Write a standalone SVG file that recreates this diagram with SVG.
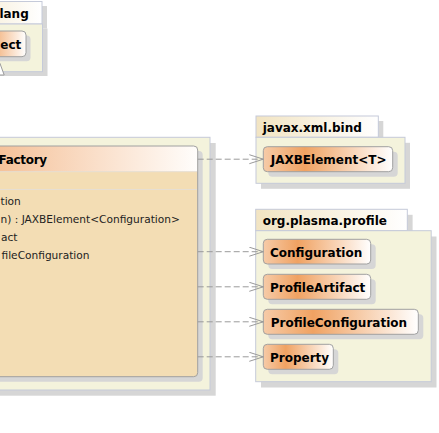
<svg xmlns="http://www.w3.org/2000/svg" width="439" height="433" viewBox="0 0 439 433">
<defs>
  <linearGradient id="clsGrad" x1="0" y1="0" x2="1" y2="0">
    <stop offset="0" stop-color="#F6CBA8"/>
    <stop offset="0.32" stop-color="#F0A262"/>
    <stop offset="1" stop-color="#FFFFFF"/>
  </linearGradient>
  <linearGradient id="tabGrad" x1="0" y1="0" x2="1" y2="0">
    <stop offset="0" stop-color="#F2E4C2"/>
    <stop offset="1" stop-color="#FFFFFF"/>
  </linearGradient>
  <linearGradient id="hdrGrad" gradientUnits="userSpaceOnUse" x1="0" y1="0" x2="197" y2="0">
    <stop offset="0" stop-color="#F5C29A"/>
    <stop offset="1" stop-color="#FFFDFB"/>
  </linearGradient>
  <marker id="openArrow" markerUnits="userSpaceOnUse" markerWidth="16" markerHeight="12" viewBox="0 0 16 12" refX="14.5" refY="5" orient="auto">
    <path d="M0.5,0.5 L14.5,5 L0.5,9.5" fill="none" stroke="#9A9A9A" stroke-width="1"/>
  </marker>
</defs>
<style>
  .shadow{fill:#D6D6D6}
  .pkg{fill:#F4F3DC;stroke:#C5CAD9;stroke-width:1}
  .tab{fill:url(#tabGrad);stroke:#C5CAD9;stroke-width:1}
  .cls{fill:url(#clsGrad);stroke:#A0A0A0;stroke-width:1}
  .bold{font-family:"DejaVu Sans",Verdana,sans-serif;font-weight:bold;font-size:12px;fill:#000}
  .op{font-family:"DejaVu Sans",Verdana,sans-serif;font-size:10.6px;fill:#222}
  .dep{fill:none;stroke:#9A9A9A;stroke-width:1;stroke-dasharray:6 3;marker-end:url(#openArrow)}
  .sep{stroke:#E6DED2;stroke-width:1}
</style>
<rect width="439" height="433" fill="#FFFFFF"/>

<g id="pkg-lang">
  <rect class="shadow" x="-55" y="6" width="102" height="22.5"/>
  <rect class="shadow" x="-55" y="28.5" width="102.5" height="47.5"/>
  <rect class="tab" x="-60" y="1.5" width="102" height="22.5"/>
  <rect class="pkg" x="-60" y="24" width="102.5" height="47.7"/>
  <text class="bold" x="-0.6" y="18">lang</text>
</g>
<g id="cls-Object">
  <rect class="shadow" x="-27.5" y="35.5" width="58" height="25.7" rx="4"/>
  <rect class="cls" x="-32" y="31" width="58" height="25.7" rx="4"/>
  <text class="bold" x="0.3" y="48.6">ect</text>
</g>

<g id="pkg-main">
  <rect class="shadow" x="-164.3" y="143" width="380" height="252.7"/>
  <rect class="pkg" x="-170" y="137.3" width="380" height="252.7"/>
</g>
<g id="cls-ObjectFactory">
  <rect class="shadow" x="-145" y="151" width="347.7" height="230.7" rx="4"/>
  <rect x="-150" y="146" width="347.7" height="230.7" rx="4" fill="#F3DDB4"/>
  <path d="M-150,171.7 V150 Q-150,146 -146,146 H193.7 Q197.7,146 197.7,150 V171.7 Z" fill="url(#hdrGrad)"/>
  <line class="sep" x1="-150" y1="171.7" x2="197.2" y2="171.7"/>
  <line class="sep" x1="-150" y1="189.5" x2="197.2" y2="189.5"/>
  <rect x="-150" y="146" width="347.7" height="230.7" rx="4" fill="none" stroke="#A0A0A0"/>
  <text class="bold" x="-1.5" y="164" letter-spacing="-0.3">Factory</text>
  <text class="op" x="0.5" y="204.5">tion</text>
  <text class="op" x="0.5" y="222.5">n) : JAXBElement&lt;Configuration&gt;</text>
  <text class="op" x="1" y="240.5">act</text>
  <text class="op" x="1.5" y="258.5">fileConfiguration</text>
</g>

<g id="pkg-javax.xml.bind">
  <rect class="shadow" x="261" y="121" width="122.3" height="21.3"/>
  <rect class="shadow" x="261" y="142.8" width="149" height="46"/>
  <rect class="tab" x="256" y="116" width="122.3" height="21.3"/>
  <rect class="pkg" x="256" y="137.3" width="149" height="46"/>
  <text class="bold" x="262.7" y="131.7">javax.xml.bind</text>
</g>
<g id="cls-JAXBElement">
  <rect class="shadow" x="268.3" y="151.7" width="129.4" height="25" rx="4"/>
  <rect class="cls" x="263.3" y="146.7" width="129.4" height="25" rx="4"/>
  <text class="bold" x="270.7" y="164">JAXBElement&lt;T&gt;</text>
</g>

<g id="pkg-org.plasma.profile">
  <rect class="shadow" x="261" y="214.8" width="151.6" height="21.4"/>
  <rect class="shadow" x="261" y="236.5" width="175.5" height="151"/>
  <rect class="tab" x="255.7" y="209.3" width="151.6" height="21.4"/>
  <rect class="pkg" x="255.7" y="230.7" width="175.5" height="151"/>
  <text class="bold" x="262.7" y="225">org.plasma.profile</text>
</g>
<g id="cls-Configuration">
  <rect class="shadow" x="268.3" y="244.3" width="107.4" height="24.7" rx="4"/>
  <rect class="cls" x="263.3" y="239.3" width="107.4" height="24.7" rx="4"/>
  <text class="bold" x="270" y="256.7">Configuration</text>
</g>
<g id="cls-ProfileArtifact">
  <rect class="shadow" x="268.3" y="279.3" width="107.4" height="25" rx="4"/>
  <rect class="cls" x="263.3" y="274.3" width="107.4" height="25" rx="4"/>
  <text class="bold" x="270" y="291.7">ProfileArtifact</text>
</g>
<g id="cls-ProfileConfiguration">
  <rect class="shadow" x="268.3" y="314.3" width="155" height="25" rx="4"/>
  <rect class="cls" x="263.3" y="309.3" width="155" height="25" rx="4"/>
  <text class="bold" x="270.7" y="326.7">ProfileConfiguration</text>
</g>
<g id="cls-Property">
  <rect class="shadow" x="268.3" y="349.3" width="70" height="25" rx="4"/>
  <rect class="cls" x="263.3" y="344.3" width="70" height="25" rx="4"/>
  <text class="bold" x="270" y="361.7">Property</text>
</g>

<g id="connectors">
  <polygon points="0,63.5 4.2,75 -6,75" fill="#FFFFFF" stroke="#9A9A9A" stroke-width="1"/>
  <line class="dep" x1="197.7" y1="159.2" x2="263.3" y2="159.2"/>
  <line class="dep" x1="197.7" y1="251.7" x2="263.3" y2="251.7"/>
  <line class="dep" x1="197.7" y1="286.8" x2="263.3" y2="286.8"/>
  <line class="dep" x1="197.7" y1="321.8" x2="263.3" y2="321.8"/>
  <line class="dep" x1="197.7" y1="356.8" x2="263.3" y2="356.8"/>
</g>
</svg>
